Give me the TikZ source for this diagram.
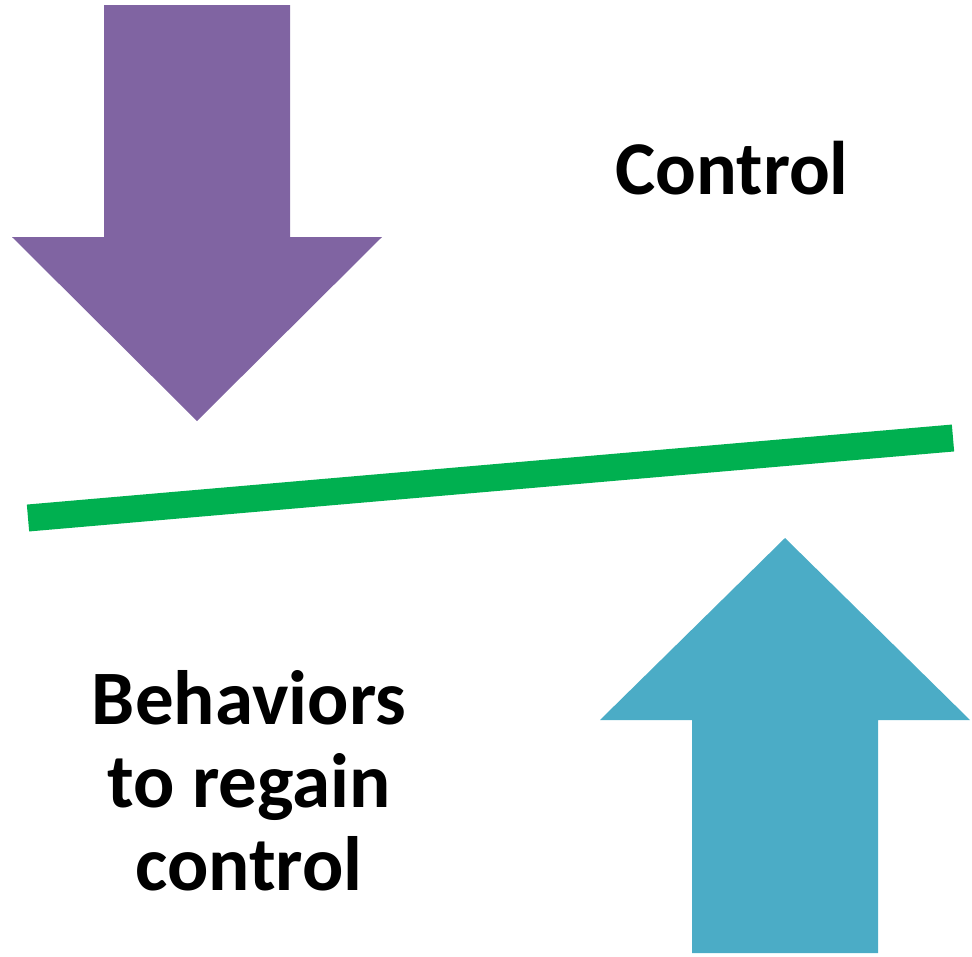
\documentclass[tikz,border=0pt]{standalone}
\usepackage{fontspec}
\setmainfont{Carlito}
\definecolor{arrowpurple}{HTML}{8064A2}
\definecolor{arrowteal}{HTML}{4BACC6}
\definecolor{levergreen}{HTML}{00B050}
\begin{document}
\begin{tikzpicture}[x=1pt, y=-1pt]
\useasboundingbox (0,0) rectangle (972,956);

\path (197,421) coordinate (downtip);
\fill [arrowpurple] (downtip)
  -- ++(185,-184) -- ++(-92,0) -- ++(0,-232)
  -- ++(-186,0) -- ++(0,232) -- ++(-92,0) -- cycle;

\path (785,538) coordinate (uptip);
\fill [arrowteal] (uptip)
  -- ++(185,182) -- ++(-92,0) -- ++(0,233)
  -- ++(-186,0) -- ++(0,-233) -- ++(-92,0) -- cycle;

%%%%%%%%%%%%%%%%%%%%%%%%%%%%%%%%%%%%%%%%

\path (28,518) coordinate (leverleft);
\path (953,438) coordinate (leverright);
\draw [levergreen, line width=27pt] (leverleft) -- (leverright);

\node (control) [anchor=base, font=\bfseries\fontsize{76}{92}\selectfont]
  at (732,194) {Control};
\node (regain) [anchor=base, align=center, font=\bfseries\fontsize{77}{83}\selectfont]
  at (249,890) {Behaviors\\to regain\\control};

\end{tikzpicture}
\end{document}
